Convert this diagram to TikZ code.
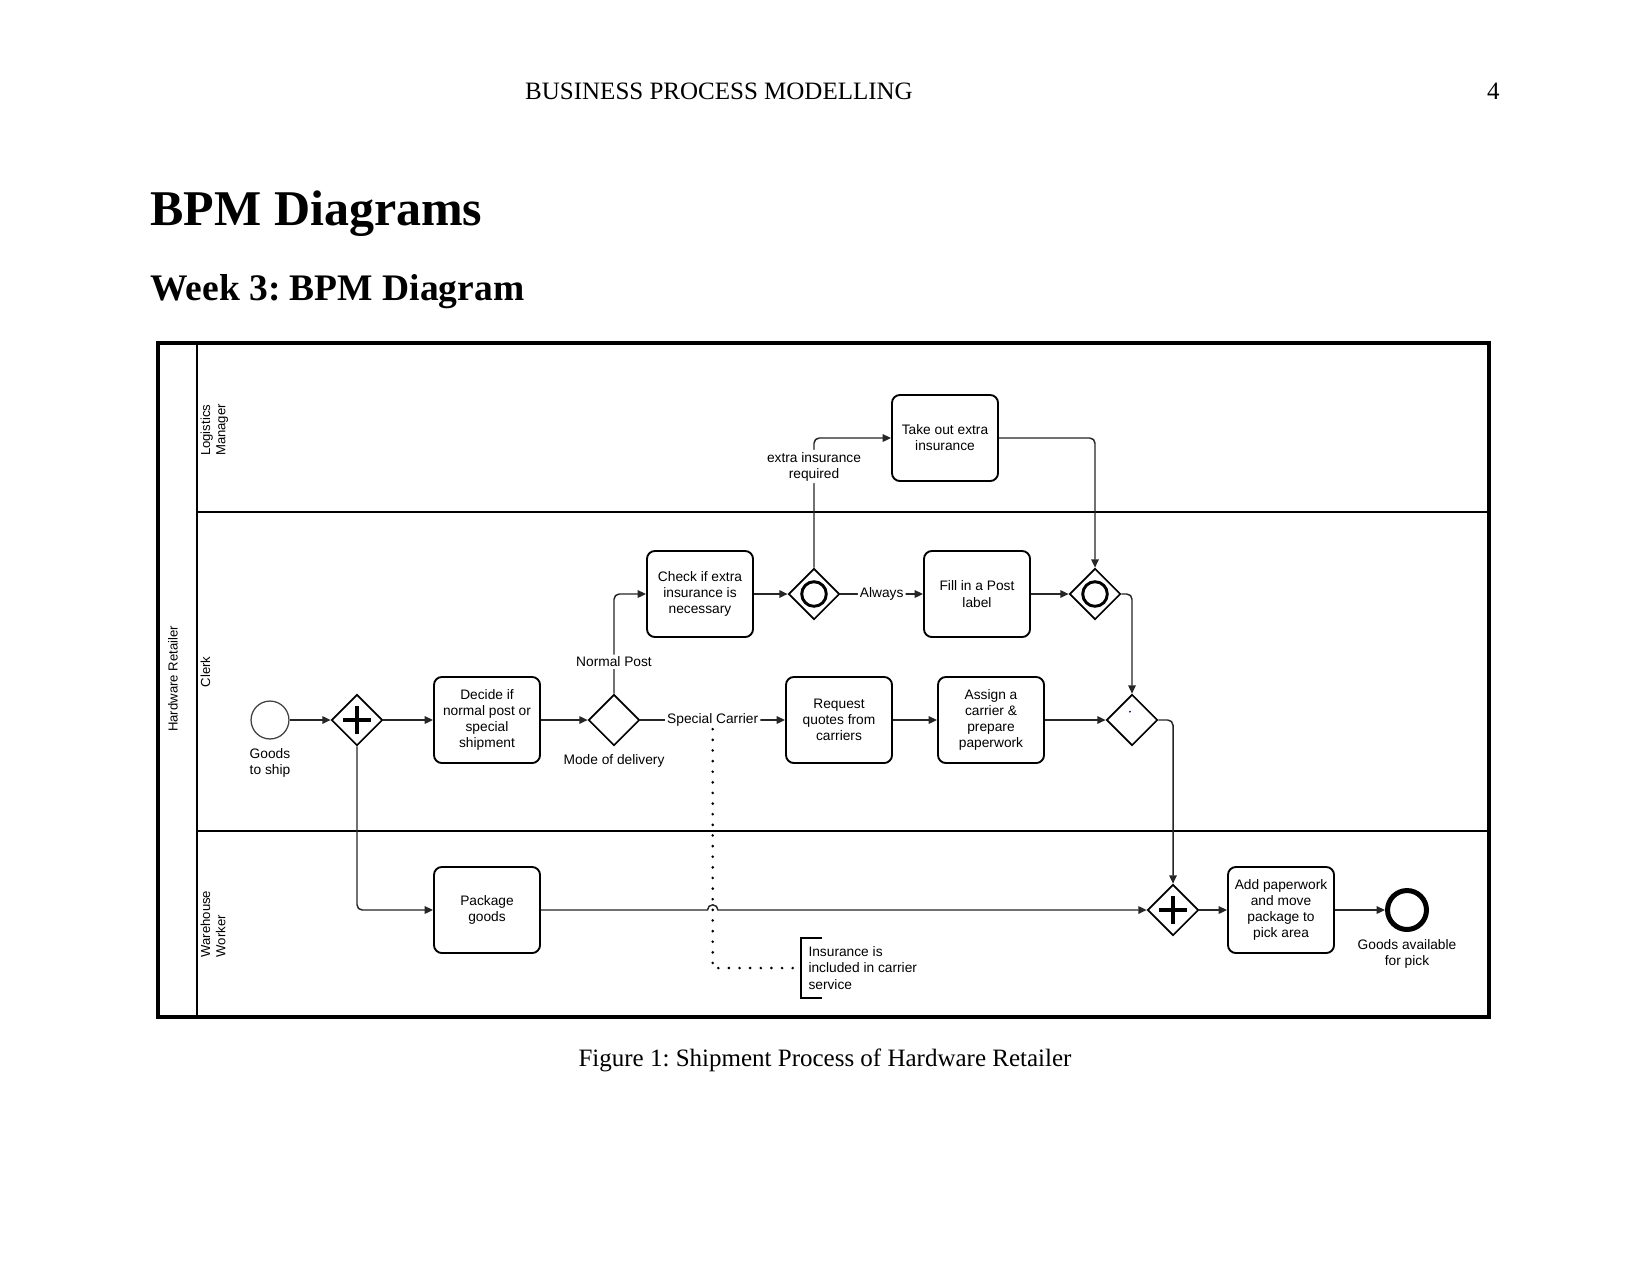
\documentclass[tikz,border=0pt]{standalone}
\usepackage{fontspec}
\setmainfont{Liberation Serif}
\newfontfamily\bpmfont{Liberation Sans}
\usepackage{tikz}
\usetikzlibrary{positioning,shapes.geometric,arrows.meta,calc}
\frenchspacing

\tikzset{
    task/.style = {draw, line width = 0.9pt, rounded corners = 3.8pt, minimum width = 50.9pt, minimum height = 41.3pt, align = center, inner sep = 0pt, font = \bpmfont\fontsize{6.6}{7.75}\selectfont},
    gate/.style = {draw, diamond, line width = 0.8pt, minimum width = 24.5pt, minimum height = 24.5pt, inner sep = 0pt},
    plusgate/.style = {gate, path picture = {\draw[line width = 2.3pt] (path picture bounding box.center) ++(-6.8pt, 0) -- ++(13.6pt, 0) (path picture bounding box.center) ++(0, -6.8pt) -- ++(0, 13.6pt);}},
    ringgate/.style = {gate, path picture = {\draw[line width = 1.4pt] (path picture bounding box.center) circle[radius = 5.9pt];}},
    startev/.style = {draw = black!75, circle, line width = 0.6pt, minimum size = 18.2pt, inner sep = 0pt},
    endev/.style = {draw, circle, line width = 2.4pt, minimum size = 18.7pt, inner sep = 0pt},
    lbl/.style = {font = \bpmfont\fontsize{6.6}{7.75}\selectfont, align = center, inner sep = 1pt},
    lane/.style = {font = \bpmfont\fontsize{6.3}{7.4}\selectfont, rotate = 90, align = left, anchor = north, inner sep = 1pt},
    flow/.style = {draw = black!85, line width = 0.7pt, rounded corners = 2.5pt, -{Triangle[length = 4pt, width = 3.6pt]}},
    assoc/.style = {line width = 1.4pt, line cap = round, dash pattern = on 0pt off 5.1pt},
}

\begin{document}
\begin{tikzpicture}[x = 0.48pt, y = -0.48pt]
    \path[fill = white, use as bounding box] (0, 0) rectangle (1650, 1275);

    \node[anchor = base, inner sep = 0pt, font = \fontsize{12}{14}\selectfont] (runninghead) at (719, 99) {BUSINESS PROCESS MODELLING};
    \node[anchor = base east, inner sep = 0pt, font = \fontsize{12}{14}\selectfont] (pagenum) at (1500, 99) {4};
    \node[anchor = base west, inner sep = 0pt, font = \bfseries\fontsize{24}{28}\selectfont] (title) at (150, 225) {BPM Diagrams};
    \node[anchor = base west, inner sep = 0pt, font = \bfseries\fontsize{18}{22}\selectfont] (subtitle) at (150, 300) {Week 3: BPM Diagram};
    \node[anchor = base, inner sep = 0pt, font = \fontsize{12}{14}\selectfont] (caption) at (825, 1066) {Figure 1: Shipment Process of Hardware Retailer};

    \draw[line width = 1.8pt] (158, 343) rectangle (1489, 1017);
    \draw[line width = 0.8pt] (197, 343) -- (197, 1017);
    \draw[line width = 0.8pt] (197, 512) -- (1489, 512);
    \draw[line width = 0.8pt] (197, 831) -- (1489, 831);

    \node[lane, anchor = center] (pool) at (173, 679) {Hardware Retailer};
    \node[lane] (logistics) at (198, 430) {Logistics\\Manager};
    \node[lane] (clerk) at (198, 672) {Clerk};
    \node[lane] (warehouse) at (198, 924) {Warehouse\\Worker};

    \node[startev] (start) at (270, 720) {};
    \node[lbl, below = 3pt of start] (startlbl) {Goods\\to ship};
    \node[plusgate] (split) at (357, 720) {};
    \node[task] (decide) at (487, 720) {Decide if\\normal post or\\special\\shipment};
    \node[gate] (mode) at (614, 720) {};
    \node[lbl, below = 2.5pt of mode] (modelbl) {Mode of delivery};
    \node[task] (check) at (700, 594) {Check if extra\\insurance is\\necessary};
    \node[ringgate] (insgate) at (814, 594) {};
    \node[task] (takeout) at (945, 438) {Take out extra\\insurance};
    \node[task] (fill) at (977, 594) {Fill in a Post\\label};
    \node[ringgate] (insjoin) at (1095, 594) {};
    \node[task] (request) at (839, 720) {Request\\quotes from\\carriers};
    \node[task] (assign) at (991, 720) {Assign a\\carrier \&\\prepare\\paperwork};
    \node[gate] (modejoin) at (1132, 720) {};
    \fill[blue] ($(modejoin) + (-1pt, 4pt)$) circle (0.5pt);
    \node[task] (package) at (487, 910) {Package\\goods};
    \node[plusgate] (sync) at (1173, 910) {};
    \node[task] (addwork) at (1281, 910) {Add paperwork\\and move\\package to\\pick area};
    \node[endev] (finish) at (1407, 910) {};
    \node[lbl, below = 2.5pt of finish] (finishlbl) {Goods available\\for pick};
    \node[lbl, anchor = west, align = left, inner xsep = 3.4pt, inner ysep = 4pt] (note) at (801, 968) {Insurance is\\included in carrier\\service};
    \draw[line width = 0.8pt] ([xshift = 10pt]note.north west) -- (note.north west) -- (note.south west) -- ([xshift = 10pt]note.south west);

    \draw[flow] (start) -- (split);
    \draw[flow] (split) -- (decide);
    \draw[flow] (split) |- (package);
    \draw[flow] (decide) -- (mode);
    \draw[flow] (mode) |- node[lbl, pos = 0.16, fill = white] (normal) {Normal Post} (check);
    \draw[flow] (mode) -- node[lbl, fill = white] (special) {Special Carrier} (request);
    \draw[flow] (check) -- (insgate);
    \draw[flow] (insgate) |- node[lbl, pos = 0.39, fill = white] (extra) {extra insurance\\required} (takeout);
    \draw[flow] (insgate) -- node[lbl, fill = white] (always) {Always} (fill);
    \draw[flow] (takeout) -| (insjoin);
    \draw[flow] (fill) -- (insjoin);
    \draw[flow] (insjoin) -| (modejoin);
    \draw[flow] (request) -- (assign);
    \draw[flow] (assign) -- (modejoin);
    \draw[flow] (modejoin) -| (sync);
    \coordinate (hop) at (special.south |- package.east);
    \draw[flow, sharp corners] (package) -- ([xshift = -2.5pt]hop) arc[start angle = 180, end angle = 0, radius = 2.5pt] -- (sync);
    \draw[flow] (sync) -- (addwork);
    \draw[flow] (addwork) -- (finish);
    \draw[assoc] (special.south) |- (note.west);
\end{tikzpicture}
\end{document}
